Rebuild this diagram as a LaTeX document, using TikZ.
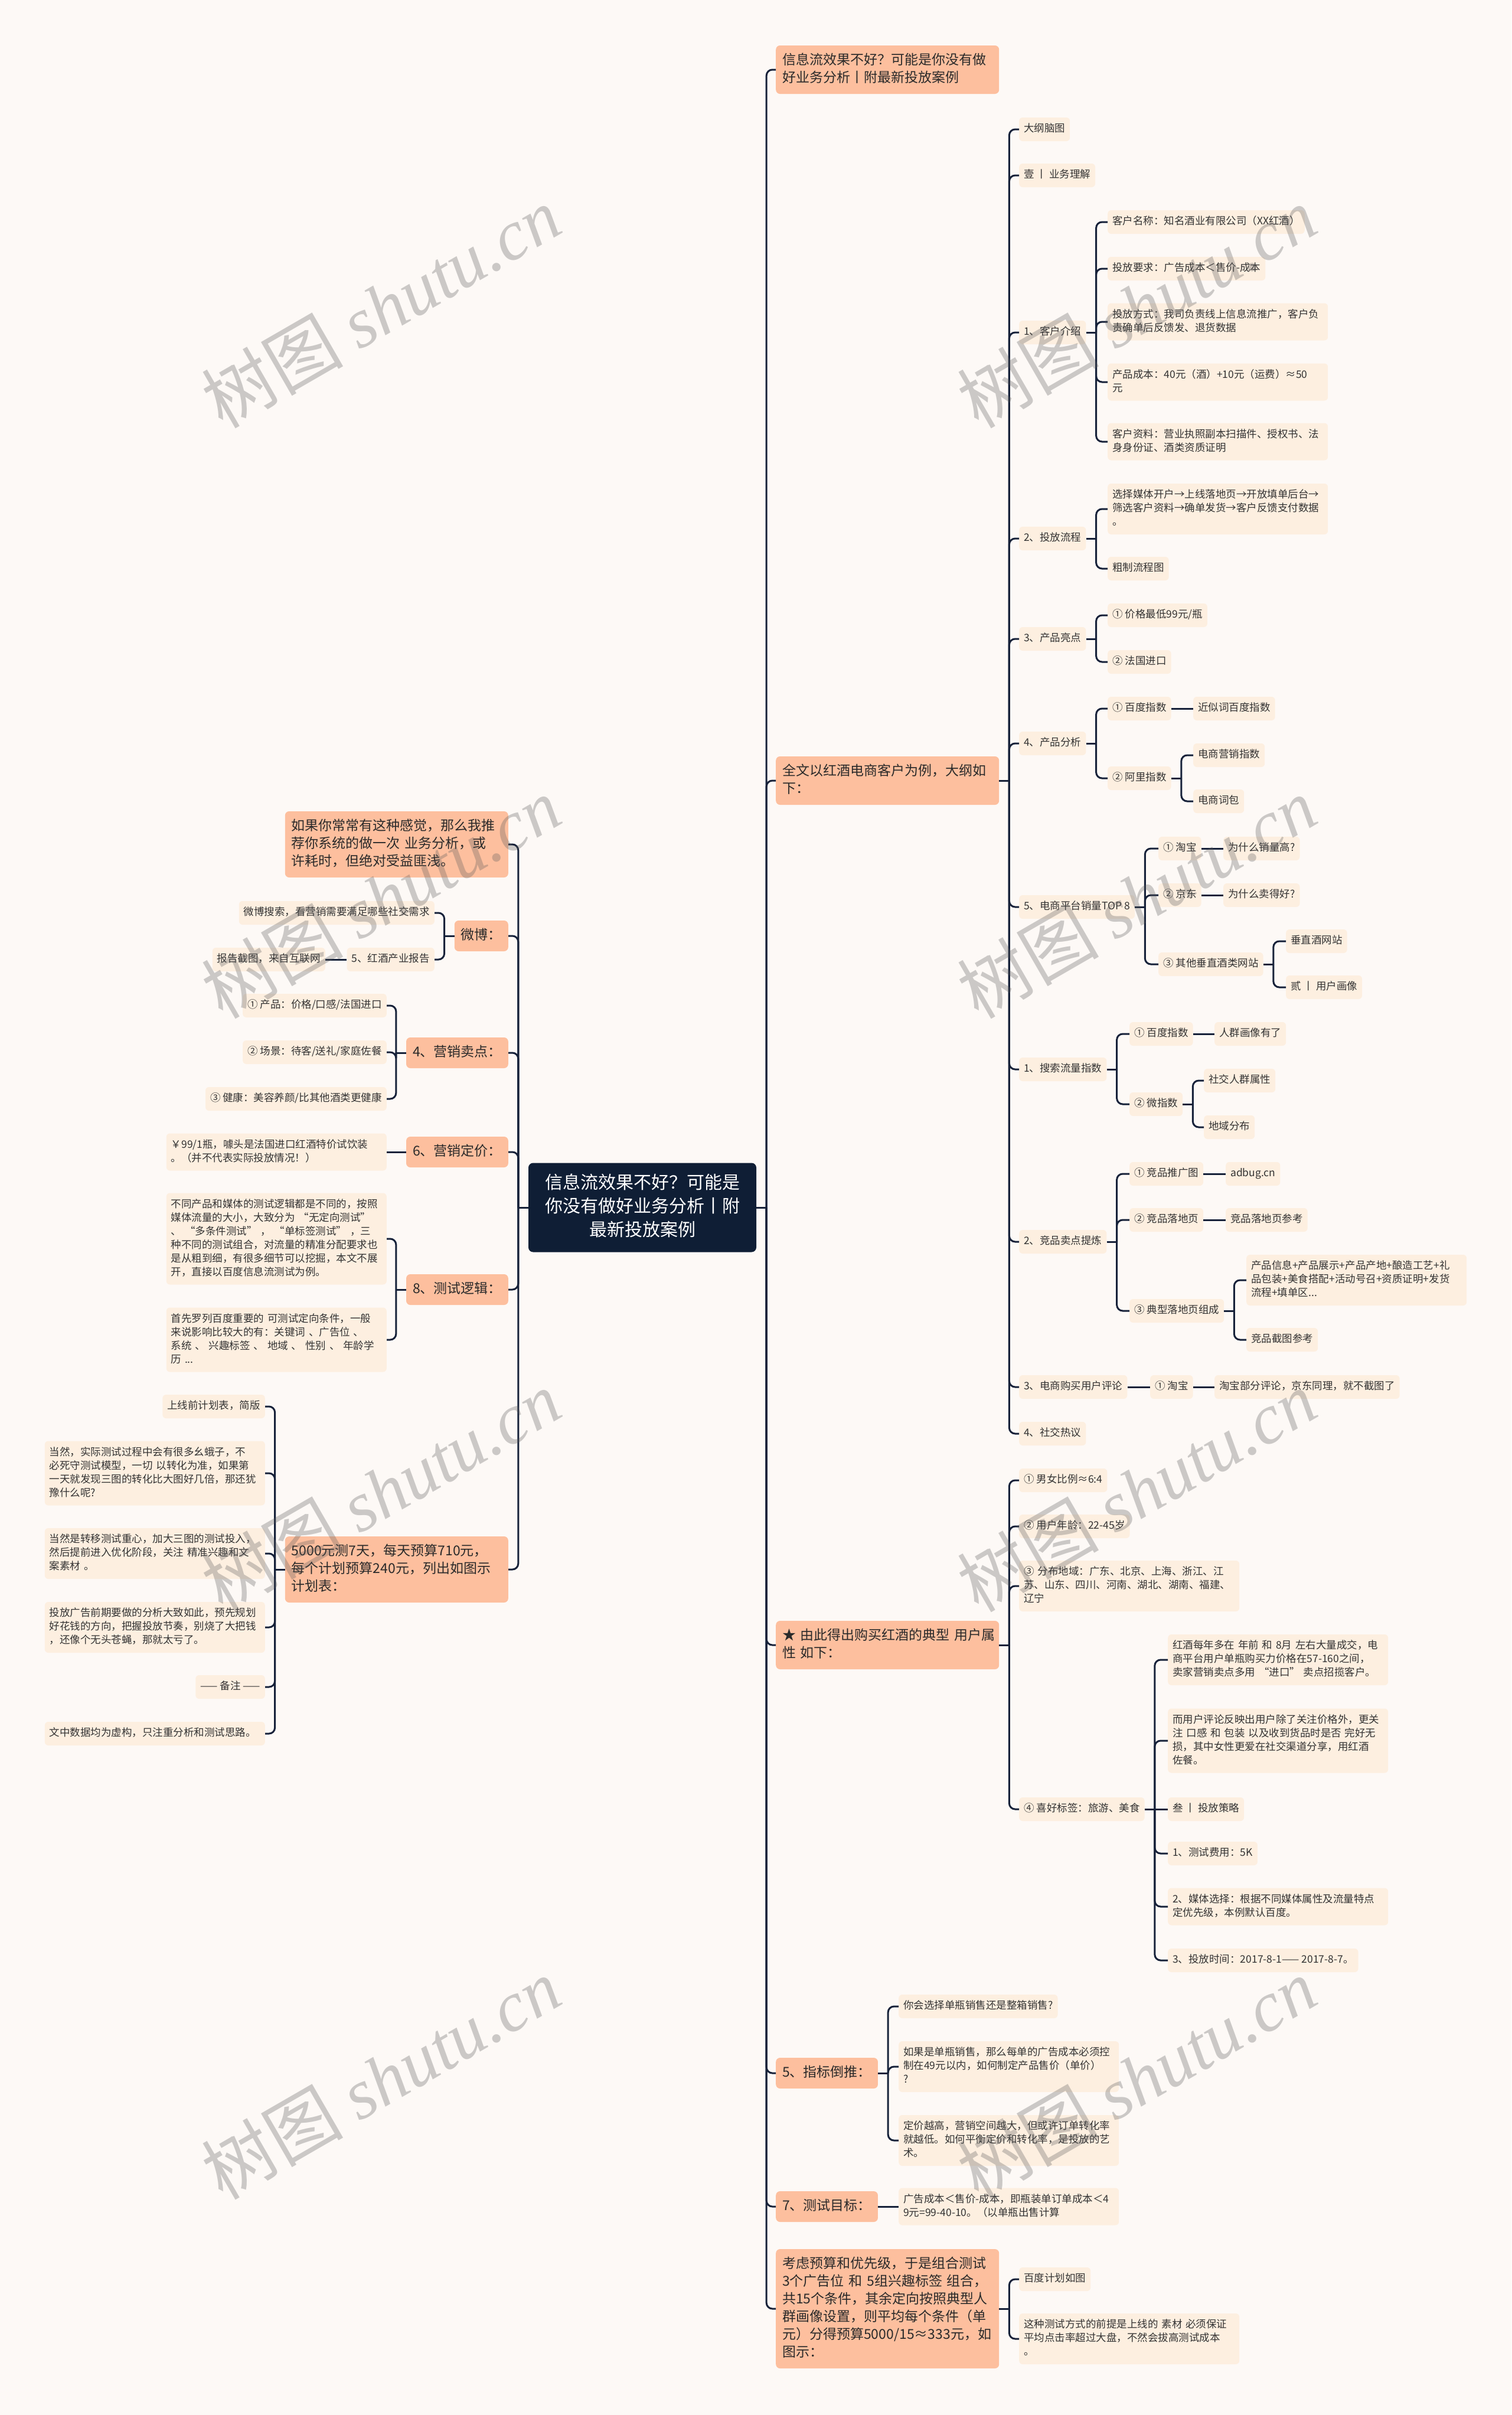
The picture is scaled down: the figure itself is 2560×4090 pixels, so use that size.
\documentclass[tikz,border=0pt]{standalone}
\usepackage{fontspec}
\newfontfamily\cjk{Noto Sans CJK SC}
\newfontfamily\wmlat{Liberation Serif}
\definecolor{bgc}{HTML}{FDF9F6}
\definecolor{leafc}{HTML}{FDEFE0}
\definecolor{mainc}{HTML}{FDBF9E}
\definecolor{rootc}{HTML}{0F1E35}
\definecolor{linec}{HTML}{17223A}
\definecolor{txtc}{HTML}{333333}
\definecolor{mtxt}{HTML}{2A2A2A}
\newcommand\lfont{\cjk\fontsize{17.5}{23}\selectfont}
\newcommand\mfont{\cjk\fontsize{23}{30}\selectfont}
\newcommand\rfont{\cjk\fontsize{30}{40}\selectfont}
\newcommand\stubR[1]{\path (#1.east) ++(17pt,0) coordinate (#1-j); \draw[conn] (#1.east) -- (#1-j);}
\newcommand\stubL[1]{\path (#1.west) ++(-17pt,0) coordinate (#1-j); \draw[conn] (#1.west) -- (#1-j);}
\newcommand\linkR[2]{\draw[conn] (#1-j) |- (#2.west);}
\newcommand\linkL[2]{\draw[conn] (#1-j) |- (#2.east);}
\newcommand\lineR[2]{\draw[conn] (#1.east) -- (#2.west);}
\newcommand\lineL[2]{\draw[conn] (#1.west) -- (#2.east);}
\begin{document}
\begin{tikzpicture}[x=1pt,y=-1pt,
  leaf/.style={fill=leafc, rounded corners=6pt, text=txtc, font=\lfont, inner xsep=8pt, inner ysep=8.5pt, execute at begin node=\strut, execute at end node=\strut},
  leafR/.style={leaf, anchor=west},
  leafL/.style={leaf, anchor=east},
  wrapR/.style={leafR, text width=357pt, align=left},
  wrapL/.style={leafL, text width=357pt, align=left},
  mainn/.style={fill=mainc, rounded corners=7pt, text=mtxt, font=\mfont, inner xsep=11pt, inner ysep=11pt, execute at begin node=\strut, execute at end node=\strut},
  mainR/.style={mainn, anchor=west},
  mainL/.style={mainn, anchor=east},
  mwrapR/.style={mainR, text width=356pt, align=left},
  mwrapL/.style={mainL, text width=356pt, align=left},
  rootn/.style={fill=rootc, rounded corners=8pt, text=white, font=\rfont, inner xsep=26pt, inner ysep=15.5pt, text width=334pt, align=center, execute at begin node=\strut, execute at end node=\strut},
  conn/.style={draw=linec, line width=3pt, rounded corners=10pt},
  wm/.style={text=gray!70!black, opacity=0.3, rotate=30, font=\cjk\fontsize{120}{130}\selectfont}
]
\fill[bgc] (0,0) rectangle (2560,4090);
\useasboundingbox (0,0) rectangle (2560,4090);

% root
\node[rootn] (root) at (1088,2045) {信息流效果不好？可能是\\你没有做好业务分析丨附\\最新投放案例};

% right main branches
\node[mwrapR] (R1) at (1314,118) {信息流效果不好？可能是你没有做\\好业务分析丨附最新投放案例};
\node[mwrapR] (R2) at (1314,1322) {全文以红酒电商客户为例，大纲如\\下：};
\node[mwrapR] (R3) at (1314,2786) {\mbox{★ 由此得出购买红酒的典型 用户属}\\性 如下：};
\node[mainR] (R4) at (1314,3511) {5、指标倒推：};
\node[mainR] (R5) at (1314,3737) {7、测试目标：};
\node[mwrapR] (R6) at (1314,3910) {考虑预算和优先级，于是组合测试\\3个广告位 和 5组兴趣标签 组合，\\共15个条件，其余定向按照典型人\\群画像设置，则平均每个条件（单\\元）分得预算5000/15≈333元，如\\图示：};

% R2 children
\node[leafR] (a1) at (1726,219) {大纲脑图};
\node[leafR] (a2) at (1726,297) {壹 丨 业务理解};
\node[leafR] (a3) at (1726,563) {1、客户介绍};
\node[leafR] (a3a) at (1876,376) {客户名称：知名酒业有限公司（XX红酒）};
\node[leafR] (a3b) at (1876,455) {投放要求：广告成本＜售价-成本};
\node[wrapR] (a3c) at (1876,545) {投放方式：我司负责线上信息流推广，客户负\\责确单后反馈发、退货数据};
\node[wrapR] (a3d) at (1876,647) {产品成本：40元（酒）+10元（运费）≈50\\元};
\node[wrapR] (a3e) at (1876,748) {客户资料：营业执照副本扫描件、授权书、法\\身身份证、酒类资质证明};
\node[leafR] (a4) at (1726,912) {2、投放流程};
\node[wrapR] (a4a) at (1876,862) {选择媒体开户→上线落地页→开放填单后台→\\筛选客户资料→确单发货→客户反馈支付数据\\。};
\node[leafR] (a4b) at (1876,963) {粗制流程图};
\node[leafR] (a5) at (1726,1082) {3、产品亮点};
\node[leafR] (a5a) at (1876,1042) {① 价格最低99元/瓶};
\node[leafR] (a5b) at (1876,1121) {② 法国进口};
\node[leafR] (a6) at (1726,1259) {4、产品分析};
\node[leafR] (a6a) at (1876,1200) {① 百度指数};
\node[leafR] (a6a1) at (2021,1200) {近似词百度指数};
\node[leafR] (a6b) at (1876,1318) {② 阿里指数};
\node[leafR] (a6b1) at (2021,1279) {电商营销指数};
\node[leafR] (a6b2) at (2021,1357) {电商词包};
\node[leafR] (a7) at (1726,1536) {5、电商平台销量TOP 8};
\node[leafR] (a7a) at (1962,1437) {① 淘宝};
\node[leafR] (a7a1) at (2072,1437) {为什么销量高?};
\node[leafR] (a7b) at (1962,1516) {② 京东};
\node[leafR] (a7b1) at (2072,1516) {为什么卖得好?};
\node[leafR] (a7c) at (1962,1633) {③ 其他垂直酒类网站};
\node[leafR] (a7c1) at (2178,1594) {垂直酒网站};
\node[leafR] (a7c2) at (2178,1672) {贰 丨 用户画像};
\node[leafR] (a8) at (1726,1811) {1、搜索流量指数};
\node[leafR] (a8a) at (1913,1751) {① 百度指数};
\node[leafR] (a8a1) at (2057,1751) {人群画像有了};
\node[leafR] (a8b) at (1913,1870) {② 微指数};
\node[leafR] (a8b1) at (2039,1830) {社交人群属性};
\node[leafR] (a8b2) at (2039,1909) {地域分布};
\node[leafR] (a9) at (1726,2103) {2、竞品卖点提炼};
\node[leafR] (a9a) at (1913,1988) {① 竞品推广图};
\node[leafR] (a9a1) at (2076,1988) {adbug.cn};
\node[leafR] (a9b) at (1913,2066) {② 竞品落地页};
\node[leafR] (a9b1) at (2076,2066) {竞品落地页参考};
\node[leafR] (a9c) at (1913,2220) {③ 典型落地页组成};
\node[wrapR] (a9c1) at (2111,2168) {产品信息+产品展示+产品产地+酿造工艺+礼\\品包装+美食搭配+活动号召+资质证明+发货\\流程+填单区...};
\node[leafR] (a9c2) at (2111,2269) {竞品截图参考};
\node[leafR] (a10) at (1726,2349) {3、电商购买用户评论};
\node[leafR] (a10a) at (1948,2349) {① 淘宝};
\node[leafR] (a10a1) at (2057,2349) {淘宝部分评论，京东同理，就不截图了};
\node[leafR] (a11) at (1726,2428) {4、社交热议};

% R3 children
\node[leafR] (b1) at (1726,2507) {① 男女比例≈6:4};
\node[leafR] (b2) at (1726,2585) {② 用户年龄：22-45岁};
\node[wrapR] (b3) at (1726,2686) {③ 分布地域：广东、北京、上海、浙江、江\\苏、山东、四川、河南、湖北、湖南、福建、\\辽宁};
\node[leafR] (b4) at (1726,3064) {④ 喜好标签：旅游、美食};
\node[wrapR] (b4a) at (1978,2811) {红酒每年多在 年前 和 8月 左右大量成交，电\\商平台用户单瓶购买力价格在57-160之间，\\卖家营销卖点多用 “进口” 卖点招揽客户。};
\node[wrapR] (b4b) at (1978,2948) {而用户评论反映出用户除了关注价格外，更关\\注 口感 和 包装 以及收到货品时是否 完好无\\损，其中女性更爱在社交渠道分享，用红酒\\佐餐。};
\node[leafR] (b4c) at (1978,3064) {叁 丨 投放策略};
\node[leafR] (b4d) at (1978,3139) {1、测试费用：5K};
\node[wrapR] (b4e) at (1978,3229) {2、媒体选择：根据不同媒体属性及流量特点\\定优先级，本例默认百度。};
\node[leafR] (b4f) at (1978,3320) {3、投放时间：2017-8-1—— 2017-8-7。};

% R4 children
\node[leafR] (c1) at (1522,3398) {你会选择单瓶销售还是整箱销售?};
\node[wrapR] (c2) at (1522,3500) {如果是单瓶销售，那么每单的广告成本必须控\\制在49元以内，如何制定产品售价（单价）\\?};
\node[wrapR] (c3) at (1522,3625) {定价越高，营销空间越大，但或许订单转化率\\就越低。如何平衡定价和转化率，是投放的艺\\术。};
% R5 child
\node[wrapR] (d1) at (1522,3737) {广告成本＜售价-成本，即瓶装单订单成本＜4\\9元=99-40-10。（以单瓶出售计算};
% R6 children
\node[leafR] (e1) at (1726,3860) {百度计划如图};
\node[wrapR] (e2) at (1726,3961) {这种测试方式的前提是上线的 素材 必须保证\\平均点击率超过大盘，不然会拔高测试成本\\。};

% left main branches
\node[mwrapL] (L1) at (861,1430) {如果你常常有这种感觉，那么我推\\荐你系统的做一次 业务分析，或\\许耗时，但绝对受益匪浅。};
\node[mainL] (L2) at (861,1585) {微博：};
\node[mainL] (L3) at (861,1783) {4、营销卖点：};
\node[mainL] (L4) at (861,1951) {6、营销定价：};
\node[mainL] (L5) at (861,2184) {8、测试逻辑：};
\node[mwrapL] (L6) at (861,2658) {5000元测7天，每天预算710元，\\每个计划预算240元，列出如图示\\计划表：};

% L2 children
\node[leafL] (f1) at (736,1546) {微博搜索，看营销需要满足哪些社交需求};
\node[leafL] (f2) at (736,1625) {5、红酒产业报告};
\node[leafL] (f2a) at (551,1625) {报告截图，来自互联网};
% L3 children
\node[leafL] (g1) at (655,1703) {① 产品：价格/口感/法国进口};
\node[leafL] (g2) at (655,1782) {② 场景：待客/送礼/家庭佐餐};
\node[leafL] (g3) at (655,1861) {③ 健康：美容养颜/比其他酒类更健康};
% L4 child
\node[wrapL] (h1) at (655,1951) {￥99/1瓶，噱头是法国进口红酒特价试饮装\\。（并不代表实际投放情况！）};
% L5 children
\node[wrapL] (i1) at (655,2098) {不同产品和媒体的测试逻辑都是不同的，按照\\媒体流量的大小，大致分为 “无定向测试”\\、 “多条件测试” ， “单标签测试” ，三\\种不同的测试组合，对流量的精准分配要求也\\是从粗到细，有很多细节可以挖掘，本文不展\\开，直接以百度信息流测试为例。};
\node[wrapL] (i2) at (655,2269) {首先罗列百度重要的 可测试定向条件，一般\\来说影响比较大的有：关键词 、广告位 、\\系统 、 兴趣标签 、 地域 、 性别 、 年龄学\\历 ...};
% L6 children
\node[leafL] (k1) at (449,2382) {上线前计划表，简版};
\node[wrapL] (k2) at (449,2495) {当然，实际测试过程中会有很多幺蛾子，不\\必死守测试模型，一切 以转化为准，如果第\\一天就发现三图的转化比大图好几倍，那还犹\\豫什么呢?};
\node[wrapL] (k3) at (449,2631) {当然是转移测试重心，加大三图的测试投入，\\然后提前进入优化阶段，关注 精准兴趣和文\\案素材 。};
\node[wrapL] (k4) at (449,2756) {投放广告前期要做的分析大致如此，预先规划\\好花钱的方向，把握投放节奏，别烧了大把钱\\，还像个无头苍蝇，那就太亏了。};
\node[leafL] (k5) at (449,2857) {—— 备注 ——};
\node[wrapL] (k6) at (449,2936) {文中数据均为虚构，只注重分析和测试思路。};

% ---------- connectors ----------
\stubR{root}
\foreach \c in {R1,R2,R3,R4,R5,R6} {\linkR{root}{\c}}
\stubL{root}
\foreach \c in {L1,L2,L3,L4,L5,L6} {\linkL{root}{\c}}

\stubR{R2}
\foreach \c in {a1,a2,a3,a4,a5,a6,a7,a8,a9,a10,a11} {\linkR{R2}{\c}}
\stubR{a3}
\foreach \c in {a3a,a3b,a3c,a3d,a3e} {\linkR{a3}{\c}}
\stubR{a4}
\foreach \c in {a4a,a4b} {\linkR{a4}{\c}}
\stubR{a5}
\foreach \c in {a5a,a5b} {\linkR{a5}{\c}}
\stubR{a6}
\foreach \c in {a6a,a6b} {\linkR{a6}{\c}}
\lineR{a6a}{a6a1}
\stubR{a6b}
\foreach \c in {a6b1,a6b2} {\linkR{a6b}{\c}}
\stubR{a7}
\foreach \c in {a7a,a7b,a7c} {\linkR{a7}{\c}}
\lineR{a7a}{a7a1}
\lineR{a7b}{a7b1}
\stubR{a7c}
\foreach \c in {a7c1,a7c2} {\linkR{a7c}{\c}}
\stubR{a8}
\foreach \c in {a8a,a8b} {\linkR{a8}{\c}}
\lineR{a8a}{a8a1}
\stubR{a8b}
\foreach \c in {a8b1,a8b2} {\linkR{a8b}{\c}}
\stubR{a9}
\foreach \c in {a9a,a9b,a9c} {\linkR{a9}{\c}}
\lineR{a9a}{a9a1}
\lineR{a9b}{a9b1}
\stubR{a9c}
\foreach \c in {a9c1,a9c2} {\linkR{a9c}{\c}}
\lineR{a10}{a10a}
\lineR{a10a}{a10a1}

\stubR{R3}
\foreach \c in {b1,b2,b3,b4} {\linkR{R3}{\c}}
\stubR{b4}
\foreach \c in {b4a,b4b,b4d,b4e,b4f} {\linkR{b4}{\c}}
\lineR{b4}{b4c}

\stubR{R4}
\foreach \c in {c1,c2,c3} {\linkR{R4}{\c}}
\lineR{R5}{d1}
\stubR{R6}
\foreach \c in {e1,e2} {\linkR{R6}{\c}}

\stubL{L2}
\foreach \c in {f1,f2} {\linkL{L2}{\c}}
\lineL{f2}{f2a}
\stubL{L3}
\foreach \c in {g1,g2,g3} {\linkL{L3}{\c}}
\lineL{L4}{h1}
\stubL{L5}
\foreach \c in {i1,i2} {\linkL{L5}{\c}}
\stubL{L6}
\foreach \c in {k1,k2,k3,k4,k5,k6} {\linkL{L6}{\c}}

% ---------- watermarks ----------
\foreach \wx in {645,1925} {
  \foreach \wy in {520,1520,2525,3520} {
    \node[wm] (wm-\wx-\wy) at (\wx,\wy) {树图 {\wmlat\itshape shutu.cn}};
  }
}
\end{tikzpicture}
\end{document}
